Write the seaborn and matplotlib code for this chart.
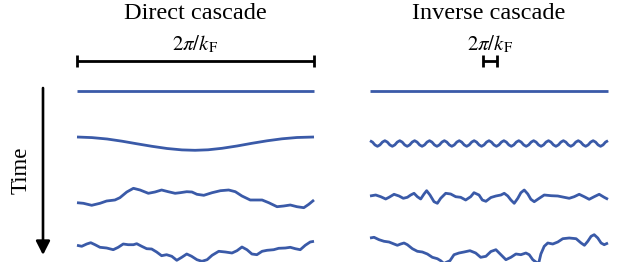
import numpy as np
import pandas as pd
import matplotlib
matplotlib.use("Agg")
import matplotlib.pyplot as plt
import seaborn as sns

# ---------------- data ----------------
panel_titles = ["Direct cascade", "Inverse cascade"]
time_label = "Time"
scale_label = r"$2\pi/k_\mathrm{F}$"
# forcing wavelength 2*pi/k_F as a fraction of each panel's domain
forcing_wavelength = [1.0, 0.0625]
scale_bar_center = [0.5, 0.504]

# Direct cascade: x = position in the domain (0..1), h = displacement
direct_x1 = [0.0, 1.0]
direct_h1 = [0.0, 0.0]

direct_x2 = [0.000, 0.063, 0.127, 0.190, 0.253, 0.316, 0.380, 0.443, 0.498,
             0.553, 0.612, 0.675, 0.738, 0.802, 0.865, 0.928, 1.000]
direct_h2 = [6.5, 5.9, 4.5, 2.3, -0.3, -2.8, -5.0, -6.4, -6.8,
             -6.3, -4.8, -2.5, 0.2, 2.7, 4.7, 6.0, 6.5]

direct_x3 = [0.000, 0.027, 0.062, 0.097, 0.125, 0.160, 0.181, 0.210, 0.238,
             0.266, 0.301, 0.329, 0.357, 0.385, 0.414, 0.435, 0.463, 0.485,
             0.506, 0.535, 0.570, 0.605, 0.640, 0.668, 0.696, 0.731, 0.759,
             0.781, 0.809, 0.844, 0.872, 0.900, 0.928, 0.957, 0.978, 1.000]
direct_h3 = [-5.7, -6.3, -8.3, -6.3, -4.0, -3.0, -0.7, 5.0, 8.7,
             7.0, 3.7, 5.0, 7.0, 5.3, 3.7, 4.3, 5.3, 5.0,
             2.7, 1.7, 4.3, 6.3, 7.0, 5.3, 1.0, -3.0, -3.0,
             -3.0, -5.7, -9.7, -9.0, -8.0, -9.7, -10.7, -7.3, -3.0]

direct_x4 = [0.000, 0.020, 0.041, 0.058, 0.076, 0.097, 0.125, 0.153, 0.174,
             0.195, 0.216, 0.238, 0.252, 0.273, 0.294, 0.315, 0.336, 0.357,
             0.378, 0.400, 0.421, 0.442, 0.463, 0.483, 0.506, 0.527, 0.549,
             0.570, 0.598, 0.626, 0.654, 0.675, 0.696, 0.717, 0.738, 0.759,
             0.781, 0.802, 0.830, 0.851, 0.879, 0.900, 0.921, 0.942, 0.963,
             0.984, 1.000]
direct_h4 = [4.7, 3.7, 6.0, 7.3, 5.3, 2.7, 2.0, 0.3, 2.7,
             6.0, 5.3, 5.3, 6.3, 3.7, 1.3, 1.0, -2.0, -5.7,
             -4.7, -6.3, -10.3, -7.3, -4.0, -6.2, -9.7, -11.3, -9.7,
             -5.3, -1.3, -2.0, -3.0, -0.7, 3.0, 0.3, -4.0, -4.7,
             -1.3, -0.3, 0.3, 1.7, 2.0, 2.7, 1.3, 0.3, 4.7,
             8.0, 8.7]

# Inverse cascade
inverse_x1 = [0.0, 1.0]
inverse_h1 = [0.0, 0.0]

inverse_h2 = [2.8, 1.4, -1.4, -2.8, -1.4, 1.4,
              2.8, 1.4, -1.4, -2.8, -1.4, 1.4,
              2.8, 1.4, -1.4, -2.8, -1.4, 1.4,
              2.8, 1.4, -1.4, -2.8, -1.4, 1.4,
              2.8, 1.4, -1.4, -2.8, -1.4, 1.4,
              2.8, 1.4, -1.4, -2.8, -1.4, 1.4,
              2.8, 1.4, -1.4, -2.8, -1.4, 1.4,
              2.8, 1.4, -1.4, -2.8, -1.4, 1.4,
              2.8, 1.4, -1.4, -2.8, -1.4, 1.4,
              2.8, 1.4, -1.4, -2.8, -1.4, 1.4,
              2.8, 1.4, -1.4, -2.8, -1.4, 1.4,
              2.8, 1.4, -1.4, -2.8, -1.4, 1.4,
              2.8, 1.4, -1.4, -2.8, -1.4, 1.4,
              2.8, 1.4, -1.4, -2.8, -1.4, 1.4,
              2.8, 1.4, -1.4, -2.8, -1.4, 1.4,
              2.8, 1.4, -1.4, -2.8, -1.4, 1.4,
              2.8]
inverse_x2 = list(np.linspace(0.0, 1.0, len(inverse_h2)))

inverse_x3 = [0.000, 0.024, 0.045, 0.066, 0.080, 0.101, 0.122, 0.140, 0.157,
              0.171, 0.185, 0.199, 0.213, 0.227, 0.238, 0.252, 0.269, 0.283,
              0.297, 0.318, 0.339, 0.360, 0.381, 0.402, 0.423, 0.437, 0.458,
              0.472, 0.487, 0.508, 0.529, 0.550, 0.564, 0.579, 0.592, 0.606,
              0.621, 0.634, 0.648, 0.663, 0.676, 0.690, 0.711, 0.732, 0.761,
              0.789, 0.816, 0.837, 0.858, 0.879, 0.900, 0.921, 0.942, 0.963,
              0.984, 1.000]
inverse_h3 = [1.0, 2.0, 0.3, -2.0, -0.3, 2.7, 1.0, -1.3, -0.3,
              2.0, 3.7, 0.3, -2.0, 3.0, 6.3, 2.0, -4.7, -6.3,
              -1.3, 3.7, 3.0, 0.3, -0.3, -3.0, 0.3, 4.3, 2.0,
              -3.0, -4.3, -0.5, 1.0, 2.0, 3.7, 1.0, -3.0, -6.3,
              -1.3, 4.3, 7.0, 3.0, -2.3, -4.7, -1.3, 2.0, 1.3,
              1.0, -0.3, -1.3, 0.3, 2.7, 0.3, -2.3, 0.3, 2.7,
              -0.3, -2.3]

inverse_x4 = [0.000, 0.017, 0.038, 0.059, 0.080, 0.101, 0.115, 0.129, 0.143,
              0.157, 0.178, 0.199, 0.220, 0.241, 0.262, 0.283, 0.297, 0.310,
              0.319, 0.336, 0.353, 0.374, 0.395, 0.420, 0.444, 0.465, 0.487,
              0.508, 0.529, 0.550, 0.571, 0.592, 0.613, 0.634, 0.655, 0.669,
              0.684, 0.697, 0.708, 0.718, 0.732, 0.747, 0.768, 0.789, 0.810,
              0.837, 0.866, 0.887, 0.901, 0.915, 0.929, 0.942, 0.957, 0.971,
              0.984, 1.000]
inverse_h4 = [12.0, 12.7, 10.3, 8.7, 8.0, 6.0, 4.7, 6.0, 7.0,
              5.3, 1.3, -1.3, -2.0, -4.0, -7.3, -8.7, -10.7, -13.5,
              -12.5, -10.7, -4.7, -3.0, -2.0, -0.7, -3.0, -7.3, -6.3,
              -1.5, 0.3, -4.7, -9.7, -7.3, -4.0, -4.7, -3.0, -4.7,
              -9.7, -12.0, -14.0, -4.0, 3.7, 7.0, 6.0, 8.0, 11.3,
              12.0, 11.3, 7.0, 4.7, 8.7, 13.7, 15.3, 12.0, 7.0,
              5.3, 7.0]

direct_lines = [(direct_x1, direct_h1), (direct_x2, direct_h2),
                (direct_x3, direct_h3), (direct_x4, direct_h4)]
inverse_lines = [(inverse_x1, inverse_h1), (inverse_x2, inverse_h2),
                 (inverse_x3, inverse_h3), (inverse_x4, inverse_h4)]

# ---------------- layout / style ----------------
BLUE = "#3a5aa8"
ROW_Y = [91, 143.5, 197, 250]      # vertical position of each time snapshot
W, H = 618, 262

sns.set_theme(style="white")
plt.rcParams["font.family"] = ["Liberation Serif", "DejaVu Serif"]
plt.rcParams["mathtext.fontset"] = "stix"


def frame(lines):
    rows = []
    for i, (xs, hs) in enumerate(lines):
        for x, h in zip(xs, hs):
            rows.append({"x": x, "y": ROW_Y[i] - h, "snapshot": i})
    return pd.DataFrame(rows)


fig = plt.figure(figsize=(W / 100, H / 100), dpi=100)
ax0 = fig.add_axes([0, 0, 1, 1])
ax0.set_xlim(0, W)
ax0.set_ylim(H, 0)
ax0.axis("off")

panels = [(77, 237, direct_lines), (370, 238, inverse_lines)]
for k, (x0, pw, lines) in enumerate(panels):
    ax = fig.add_axes([x0 / W, 0, pw / W, 1])
    ax.set_xlim(0, 1)
    ax.set_ylim(H, 0)
    ax.axis("off")
    df = frame(lines)
    sns.lineplot(data=df, x="x", y="y", units="snapshot", estimator=None,
                 sort=False, color=BLUE, lw=2.0, ax=ax, legend=False)
    for ln in ax.lines:
        ln.set_clip_on(False)
        ln.set_solid_capstyle("butt")
        ln.set_solid_joinstyle("round")
    # scale bar = forcing wavelength
    eb = ax.errorbar(scale_bar_center[k], 61, xerr=forcing_wavelength[k] / 2,
                     fmt="none", ecolor="black", elinewidth=2.0,
                     capsize=4.4, capthick=2.0)
    for art in list(eb.lines[1]) + list(eb.lines[2]):
        art.set_clip_on(False)
    cx = x0 + pw * scale_bar_center[k]
    ax0.text(x0 + pw / 2, 19, panel_titles[k], ha="center", va="baseline",
             fontsize=17.5, color="black")
    ax0.text(cx, 50, scale_label, ha="center", va="baseline",
             fontsize=15, color="black")

# time arrow
ax0.annotate("", xy=(43, 255), xytext=(43, 88),
             arrowprops=dict(arrowstyle="-|>,head_length=0.55,head_width=0.28",
                             color="black", lw=1.9, shrinkA=0, shrinkB=0,
                             mutation_scale=15))
ax0.text(21, 170, time_label, rotation=90, ha="center", va="center",
         fontsize=16.5, color="black")

fig.savefig("out.png", dpi=100)
